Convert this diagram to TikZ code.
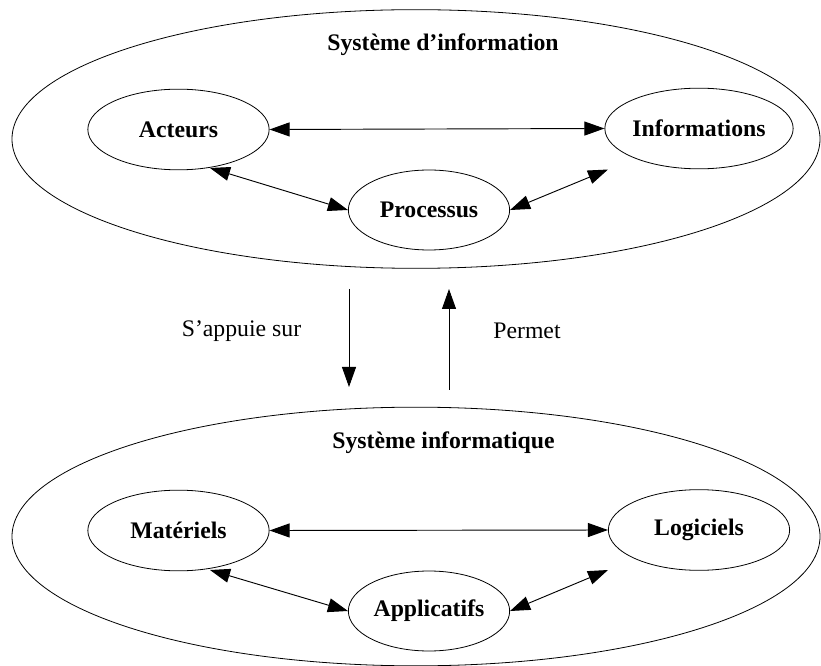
\documentclass[tikz,border=0pt]{standalone}
\usepackage{fontspec}
\setmainfont{Liberation Serif}
\usetikzlibrary{shapes.geometric,arrows.meta}
\tikzset{
  outer/.style={draw, ellipse, line width=0.6pt, inner sep=0pt, minimum width=606pt, minimum height=194pt},
  inner/.style={draw, ellipse, line width=0.6pt, inner sep=0pt, font=\fontsize{17.8}{20}\selectfont\bfseries},
  wide/.style={inner, minimum width=136pt, minimum height=60.5pt},
  narrow/.style={inner, minimum width=121pt, minimum height=60pt},
  title/.style={font=\fontsize{17.8}{20}\selectfont\bfseries, inner sep=0pt},
  lab/.style={font=\fontsize{17.8}{20}\selectfont, inner sep=0pt},
  tip/.style={Triangle[length=15pt,width=10.5pt]},
  link/.style={line width=0.7pt, {Triangle[length=15pt,width=10.5pt]}-{Triangle[length=15pt,width=10.5pt]}},
  one/.style={line width=0.7pt, -{Triangle[length=15pt,width=10.5pt]}}
}
\begin{document}
\begin{tikzpicture}[x=0.75pt,y=-0.75pt]
\useasboundingbox (0,0) rectangle (821,666);
% top
\node[outer] (sinf) at (416,139) {};
\node[title] (t1) at (443,45) {Système d’information};
\node[wide] (act) at (178.5,129.5) {Acteurs};
\node[wide] (info) at (699,128.5) {Informations};
\node[narrow] (proc) at (429,210) {Processus};
\draw[link] (act.east) -- (info.west);
\draw[link] ([shift={(31.5,38.5)}]act.center) -- (proc.west);
\draw[link] (proc.east) -- ([shift={(-91,41)}]info.center);
% bottom
\node[outer] (sinfo) at (416,536.5) {};
\node[title] (t2) at (443.5,443) {Système informatique};
\node[wide] (mat) at (178.5,530.5) {Matériels};
\node[wide] (log) at (699,530) {Logiciels};
\node[narrow] (app) at (429,611) {Applicatifs};
\draw[link] (mat.east) -- (log.west);
\draw[link] ([shift={(31.5,39.5)}]mat.center) -- (app.west);
\draw[link] (app.east) -- ([shift={(-91,40)}]log.center);
% between
\coordinate (d1) at (349,289);
\coordinate (d2) at (349,387);
\coordinate (u1) at (449,390);
\coordinate (u2) at (449,289);
\draw[one] (d1) -- (d2);
\draw[one] (u1) -- (u2);
\node[lab] (l1) at (241.5,331) {S’appuie sur};
\node[lab] (l2) at (527,331) {Permet};
\end{tikzpicture}
\end{document}
